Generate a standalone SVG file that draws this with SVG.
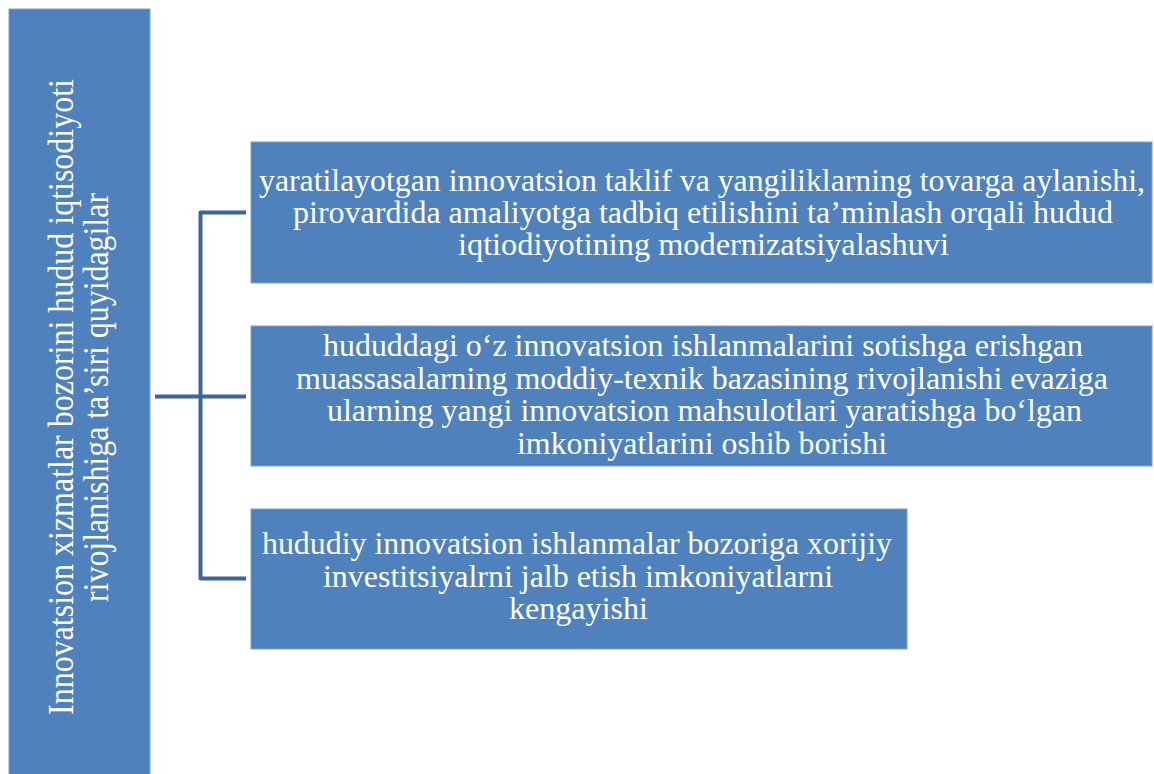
<svg xmlns="http://www.w3.org/2000/svg" width="1154" height="774" viewBox="0 0 1154 774">
<style>
.box{fill:#4F81BD;stroke:#7FA0CF;stroke-width:1}
.t{font-family:"Liberation Serif","Times New Roman",serif;font-size:31px;fill:#FFFFFF;text-anchor:middle}
.lt{font-family:"Liberation Serif","Times New Roman",serif;font-size:35px;fill:#FFFFFF;text-anchor:middle}
.conn{fill:none;stroke:#3F6597;stroke-width:4;stroke-linejoin:round;stroke-linecap:butt}
</style>
<rect width="1154" height="774" fill="#FFFFFF"/>
<g id="root">
<rect class="box" x="9" y="9" width="141" height="775"/>
<text class="lt" transform="translate(73,397) rotate(-90)" textLength="636" lengthAdjust="spacingAndGlyphs">Innovatsion xizmatlar bozorini hudud iqtisodiyoti</text>
<text class="lt" transform="translate(108,397.5) rotate(-90)" textLength="409" lengthAdjust="spacingAndGlyphs">rivojlanishiga ta’siri quyidagilar</text>
</g>
<g id="connectors">
<path class="conn" d="M155,396.5 H246"/>
<path class="conn" d="M246,212.5 H200.5 V578.5 H246"/>
</g>
<g id="node1">
<rect class="box" x="251" y="142" width="901" height="141"/>
<text class="t" x="702" y="191" textLength="886" lengthAdjust="spacingAndGlyphs">yaratilayotgan innovatsion taklif va yangiliklarning tovarga aylanishi,</text>
<text class="t" x="703" y="223" textLength="820" lengthAdjust="spacingAndGlyphs">pirovardida amaliyotga tadbiq etilishini ta’minlash orqali hudud</text>
<text class="t" x="703.5" y="255" textLength="491" lengthAdjust="spacingAndGlyphs">iqtiodiyotining modernizatsiyalashuvi</text>
</g>
<g id="node2">
<rect class="box" x="251" y="326" width="901" height="140"/>
<text class="t" x="703" y="356" textLength="760" lengthAdjust="spacingAndGlyphs">hududdagi o‘z innovatsion ishlanmalarini sotishga erishgan</text>
<text class="t" x="702" y="388.5" textLength="812" lengthAdjust="spacingAndGlyphs">muassasalarning moddiy-texnik bazasining rivojlanishi evaziga</text>
<text class="t" x="704.5" y="421" textLength="755" lengthAdjust="spacingAndGlyphs">ularning yangi innovatsion mahsulotlari yaratishga bo‘lgan</text>
<text class="t" x="702" y="454" textLength="370" lengthAdjust="spacingAndGlyphs">imkoniyatlarini oshib borishi</text>
</g>
<g id="node3">
<rect class="box" x="251" y="509" width="656" height="140"/>
<text class="t" x="577" y="554" textLength="630" lengthAdjust="spacingAndGlyphs">hududiy innovatsion ishlanmalar bozoriga xorijiy</text>
<text class="t" x="578" y="587" textLength="510" lengthAdjust="spacingAndGlyphs">investitsiyalrni jalb etish imkoniyatlarni</text>
<text class="t" x="578.5" y="619" textLength="139" lengthAdjust="spacingAndGlyphs">kengayishi</text>
</g>
</svg>
